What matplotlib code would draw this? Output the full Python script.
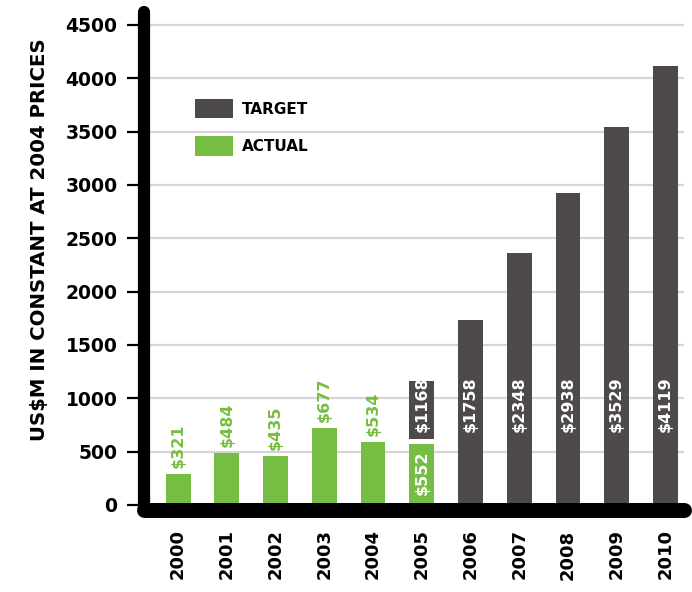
import matplotlib
matplotlib.use('Agg')
import matplotlib.pyplot as plt
from matplotlib.patches import Patch

# 数据
YEARS = ['2000', '2001', '2002', '2003', '2004', '2005', '2006', '2007', '2008', '2009', '2010']
ACTUAL_H = [291, 487, 459, 722, 590, 572]          # bar heights as drawn
ACTUAL_LABELS = ['$321', '$484', '$435', '$677', '$534', '$552']
TARGET_BOTTOM = [616, 0, 0, 0, 0, 0]
TARGET_TOP = [1162, 1734, 2362, 2924, 3543, 4114]
TARGET_LABELS = ['$1168', '$1758', '$2348', '$2938', '$3529', '$4119']
YTICKS = [0, 500, 1000, 1500, 2000, 2500, 3000, 3500, 4000, 4500]

GREEN = '#76be43'
DARK = '#4d494c'
GRID = '#d6d6d6'
FONT = 'DejaVu Sans'

fig = plt.figure(figsize=(6.92, 5.92), dpi=100)
W, H = 692.0, 592.0
ax = fig.add_axes([144 / W, (H - 510) / H, (684 - 144) / W, (510 - 12) / H])

x_act = list(range(len(ACTUAL_H)))
x_tgt = list(range(5, 5 + len(TARGET_TOP)))
t_heights = [t - b for t, b in zip(TARGET_TOP, TARGET_BOTTOM)]

ax.bar(x_tgt, t_heights, bottom=TARGET_BOTTOM, width=0.51, color=DARK, zorder=2)
ax.bar(x_act, ACTUAL_H, width=0.51, color=GREEN, zorder=2)

# value labels
for i, (h, lab) in enumerate(zip(ACTUAL_H, ACTUAL_LABELS)):
    if i < 5:
        ax.text(i, h + 55, lab, rotation=90, ha='center', va='bottom',
                color=GREEN, fontsize=11.5, fontweight='bold', family=FONT, zorder=3)
    else:
        ax.text(i, 94, lab, rotation=90, ha='center', va='bottom',
                color='white', fontsize=11.5, fontweight='bold', family=FONT, zorder=3)
for x, lab in zip(x_tgt, TARGET_LABELS):
    ax.text(x, 680, lab, rotation=90, ha='center', va='bottom',
            color='white', fontsize=11.5, fontweight='bold', family=FONT, zorder=3)

ax.set_xlim(-0.70, 10.38)
ax.set_ylim(-47, 4620)
ax.set_yticks(YTICKS)
ax.set_xticks(range(len(YEARS)))
ax.set_xticklabels(YEARS, rotation=90, fontsize=13, fontweight='bold', family=FONT)
ax.set_yticklabels([str(v) for v in YTICKS], fontsize=13.5, fontweight='bold', family=FONT)
ax.tick_params(axis='x', length=0, pad=14)
ax.tick_params(axis='y', length=12.5, width=1.6, pad=6.5, color='black')

ax.yaxis.grid(True, color=GRID, linewidth=1.6, zorder=0)
ax.set_axisbelow(True)

for s in ['top', 'right']:
    ax.spines[s].set_visible(False)
ax.spines['left'].set_linewidth(8.8)
ax.spines['bottom'].set_linewidth(10.8)
for s in ['left', 'bottom']:
    ax.spines[s].set_capstyle('round')
    ax.spines[s].set_color('black')
    ax.spines[s].set_zorder(5)

ax.set_ylabel('US$M IN CONSTANT AT 2004 PRICES', fontsize=14.2, fontweight='bold', family=FONT)
ax.yaxis.set_label_coords(-0.176, 0.542)

handles = [Patch(facecolor=DARK, label='TARGET'), Patch(facecolor=GREEN, label='ACTUAL')]
leg = ax.legend(handles=handles, loc='upper left', bbox_to_anchor=(195 / W, 1 - 99 / H),
                bbox_transform=fig.transFigure, frameon=False, borderpad=0, borderaxespad=0,
                handlelength=2.5, handleheight=1.57, labelspacing=1.18, handletextpad=0.6,
                prop={'family': FONT, 'weight': 'bold', 'size': 11})

fig.savefig('out.png', dpi=100)
